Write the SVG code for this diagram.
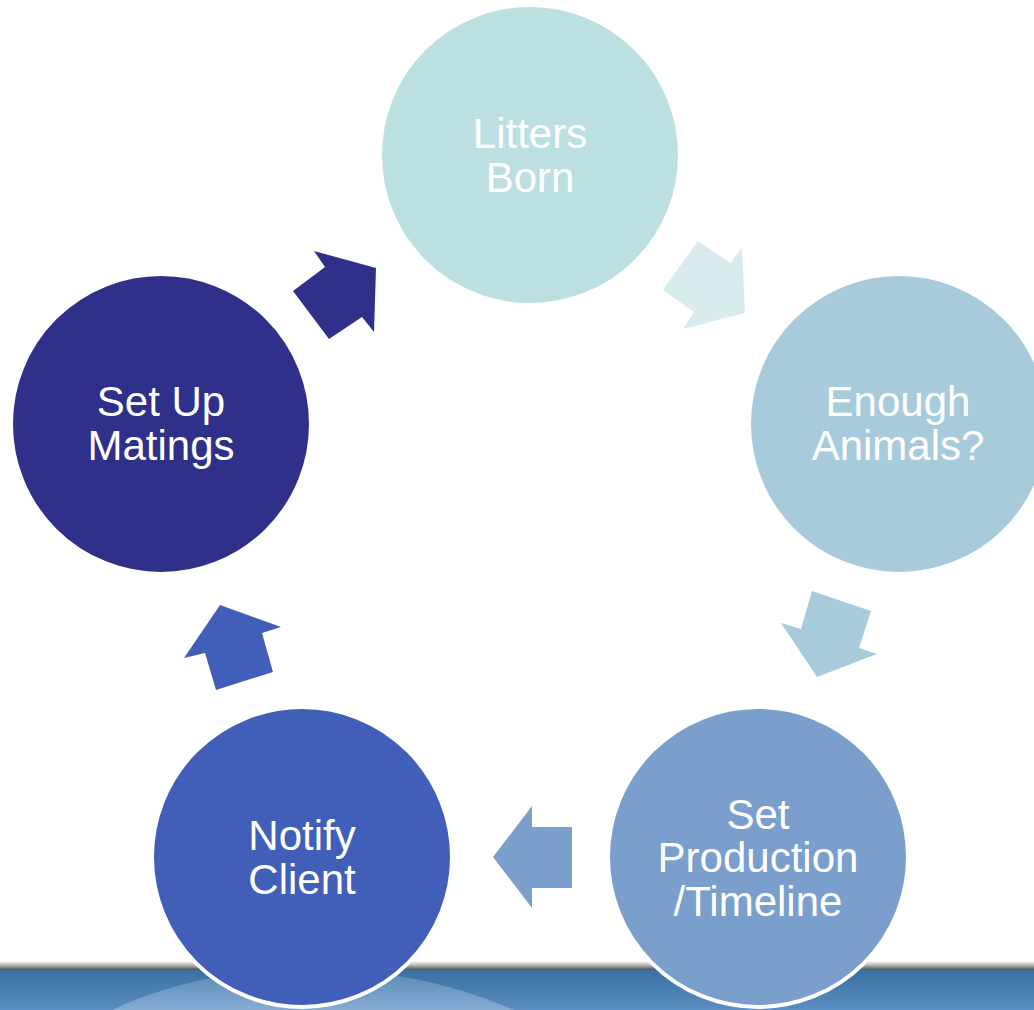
<svg xmlns="http://www.w3.org/2000/svg" width="1034" height="1010" viewBox="0 0 1034 1010">
<defs>
<linearGradient id="shade" x1="0" y1="0" x2="0" y2="1">
<stop offset="0" stop-color="#ffffff"/>
<stop offset="0.5" stop-color="#b0b0b0"/>
<stop offset="1" stop-color="#505050"/>
</linearGradient>
<linearGradient id="band" x1="0" y1="0" x2="0" y2="1">
<stop offset="0" stop-color="#3a70a0"/>
<stop offset="1" stop-color="#5a8ec2"/>
</linearGradient>
<linearGradient id="glow" x1="0" y1="0" x2="0" y2="1">
<stop offset="0" stop-color="#6a96bf" stop-opacity="0.6"/>
<stop offset="1" stop-color="#86acd4" stop-opacity="1"/>
</linearGradient>
</defs>
<style>
.c{stroke:#ffffff;stroke-width:4}
.t{font-family:"Liberation Sans",Arial,sans-serif;font-size:42px;fill:#ffffff;text-anchor:middle}
</style>
<rect x="0" y="0" width="1034" height="1010" fill="#ffffff"/>
<g id="background">
<rect x="0" y="961" width="1034" height="9" fill="url(#shade)"/>
<rect x="0" y="970" width="1034" height="40" fill="url(#band)"/>
<path d="M112,1010 Q200,969 310,969 Q420,969 514,1010 Z" fill="url(#glow)"/>
</g>
<g id="connectors">
<polygon points="314,251 376,268 374,332 362,317 329,339 293,291 325,267" fill="#2e3089"/>
<polygon points="698,241 730,263 742,248 745,313 683,329 694,312 663,290" fill="#d8ecee"/>
<polygon points="812,591 871,611 859,648 877,654 817,677 781,623 801,629" fill="#a8cbdc"/>
<polygon points="572,827 572,888 532,888 532,908 493,857 532,806 532,827" fill="#7a9fcc"/>
<polygon points="220,605 281,627 262,633 273,672 216,690 205,653 184,658" fill="#415fb8"/>
</g>
<g id="litters-born">
<circle class="c" cx="530" cy="155" r="150" fill="#bcdfe1"/>
<text class="t" x="530" y="148">Litters</text>
<text class="t" x="530" y="192">Born</text>
</g>
<g id="enough-animals">
<circle class="c" cx="899" cy="424" r="150" fill="#a8cbdc"/>
<text class="t" x="898" y="416">Enough</text>
<text class="t" x="898" y="460">Animals?</text>
</g>
<g id="set-production">
<circle class="c" cx="758" cy="857" r="150" fill="#7a9fcc"/>
<text class="t" x="758" y="829">Set</text>
<text class="t" x="758" y="872">Production</text>
<text class="t" x="758" y="916">/Timeline</text>
</g>
<g id="notify-client">
<circle class="c" cx="302" cy="857" r="150" fill="#415fb8"/>
<text class="t" x="302" y="850">Notify</text>
<text class="t" x="302" y="894">Client</text>
</g>
<g id="set-up-matings">
<circle class="c" cx="161" cy="424" r="150" fill="#2e3089"/>
<text class="t" x="161" y="416">Set Up</text>
<text class="t" x="161" y="460">Matings</text>
</g>
</svg>
